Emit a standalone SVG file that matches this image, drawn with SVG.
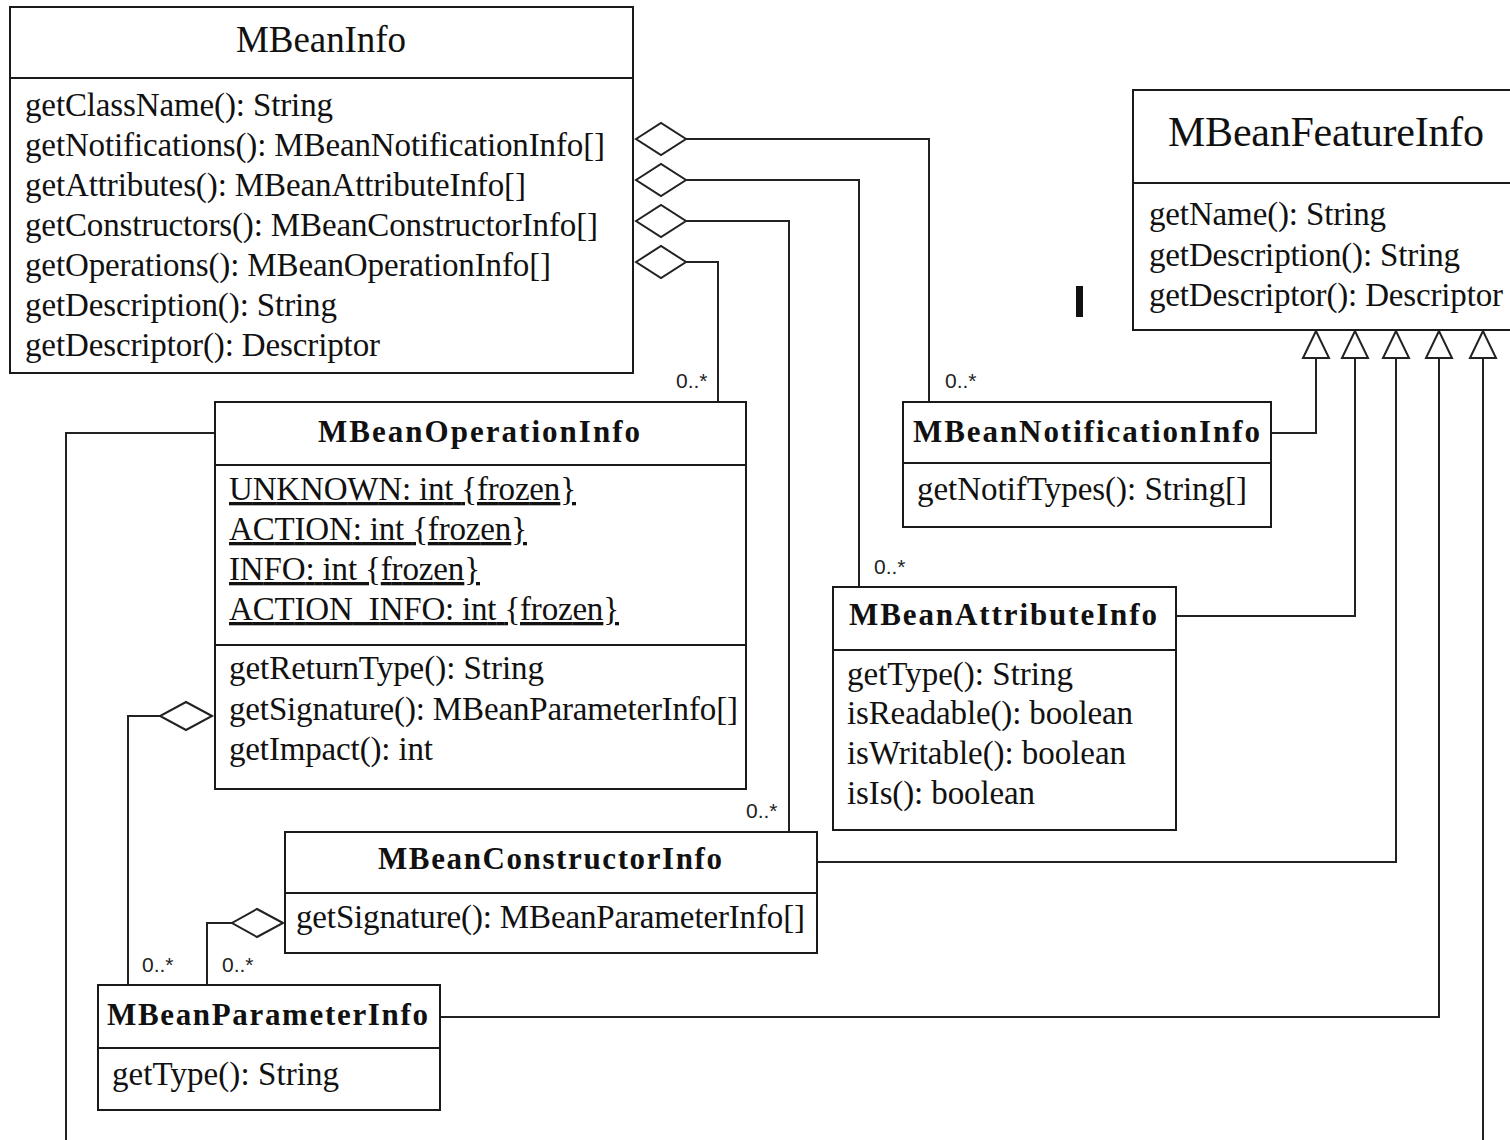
<svg xmlns="http://www.w3.org/2000/svg" width="1510" height="1140" viewBox="0 0 1510 1140">
<style>
.box{fill:#fff;stroke:#1a1a1a;stroke-width:2}
.div{stroke:#1a1a1a;stroke-width:2}
.t{font-family:"Liberation Serif",serif;fill:#111}
.m{font-size:33px}
.h{font-size:37px}
.hb{font-size:31px;font-weight:bold}
.u{text-decoration:underline}
.c{fill:none;stroke:#222;stroke-width:2}
.dia{fill:#fff;stroke:#222;stroke-width:2}
.tri{fill:#fff;stroke:#222;stroke-width:2}
.mul{font-family:"Liberation Sans",sans-serif;font-size:21px;fill:#222}
</style>
<rect x="0" y="0" width="1510" height="1140" fill="#fff"/>
<g id="connectors">
  <polyline class="c" points="686,139 929,139 929,402"/>
  <polyline class="c" points="686,180 859,180 859,587"/>
  <polyline class="c" points="686,221 789,221 789,832"/>
  <polyline class="c" points="686,262 718,262 718,402"/>
  <polygon class="dia" points="636,139 661,123 686,139 661,155"/>
  <polygon class="dia" points="636,180 661,164 686,180 661,196"/>
  <polygon class="dia" points="636,221 661,205 686,221 661,237"/>
  <polygon class="dia" points="636,262 661,246 686,262 661,278"/>
  <polyline class="c" points="160,716 128,716 128,985"/>
  <polygon class="dia" points="212,716 186,702 160,716 186,730"/>
  <polyline class="c" points="232,923 207,923 207,985"/>
  <polygon class="dia" points="283,923 257,909 232,923 257,937"/>
  <polyline class="c" points="215,433 66,433 66,1140"/>
  <polyline class="c" points="1271,433 1316,433 1316,358"/>
  <polyline class="c" points="1176,616 1355,616 1355,358"/>
  <polyline class="c" points="817,862 1396,862 1396,358"/>
  <polyline class="c" points="440,1017 1439,1017 1439,358"/>
  <polyline class="c" points="1483,1140 1483,358"/>
  <polygon class="tri" points="1316,331 1303,358 1329,358"/>
  <polygon class="tri" points="1355,331 1342,358 1368,358"/>
  <polygon class="tri" points="1396,331 1383,358 1409,358"/>
  <polygon class="tri" points="1439,331 1426,358 1452,358"/>
  <polygon class="tri" points="1483,331 1470,358 1496,358"/>
  <text class="mul" x="676" y="388">0..*</text>
  <text class="mul" x="945" y="388">0..*</text>
  <text class="mul" x="874" y="574">0..*</text>
  <text class="mul" x="746" y="818">0..*</text>
  <text class="mul" x="142" y="972">0..*</text>
  <text class="mul" x="222" y="972">0..*</text>
</g>
<g id="MBeanInfo">
  <rect class="box" x="10" y="7" width="623" height="366"/>
  <line class="div" x1="10" y1="78" x2="633" y2="78"/>
  <text class="t h" x="236" y="52" textLength="170">MBeanInfo</text>
  <text class="t m" x="25" y="116" textLength="308">getClassName(): String</text>
  <text class="t m" x="25" y="156" textLength="580">getNotifications(): MBeanNotificationInfo[]</text>
  <text class="t m" x="25" y="196" textLength="501">getAttributes(): MBeanAttributeInfo[]</text>
  <text class="t m" x="25" y="236" textLength="573">getConstructors(): MBeanConstructorInfo[]</text>
  <text class="t m" x="25" y="276" textLength="526">getOperations(): MBeanOperationInfo[]</text>
  <text class="t m" x="25" y="316" textLength="312">getDescription(): String</text>
  <text class="t m" x="25" y="356" textLength="355">getDescriptor(): Descriptor</text>
</g>
<g id="MBeanFeatureInfo">
  <rect class="box" x="1133" y="90" width="390" height="240"/>
  <line class="div" x1="1133" y1="183" x2="1523" y2="183"/>
  <text class="t" style="font-size:42px" x="1168" y="146" textLength="316">MBeanFeatureInfo</text>
  <text class="t m" x="1149" y="225" textLength="237">getName(): String</text>
  <text class="t m" x="1149" y="266" textLength="311">getDescription(): String</text>
  <text class="t m" x="1149" y="306" textLength="354">getDescriptor(): Descriptor</text>
</g>
<g id="cursor-mark">
  <rect x="1076" y="286" width="7" height="31" fill="#111"/>
</g>
<g id="MBeanOperationInfo">
  <rect class="box" x="215" y="402" width="531" height="387"/>
  <line class="div" x1="215" y1="465" x2="746" y2="465"/>
  <line class="div" x1="215" y1="645" x2="746" y2="645"/>
  <text class="t hb" x="318" y="442" textLength="322">MBeanOperationInfo</text>
  <text class="t m u" x="229" y="500" textLength="347">UNKNOWN: int {frozen}</text>
  <text class="t m u" x="229" y="540" textLength="298">ACTION: int {frozen}</text>
  <text class="t m u" x="229" y="580" textLength="251">INFO: int {frozen}</text>
  <text class="t m u" x="229" y="620" textLength="390">ACTION_INFO: int {frozen}</text>
  <text class="t m" x="229" y="679" textLength="315">getReturnType(): String</text>
  <text class="t m" x="229" y="720" textLength="509">getSignature(): MBeanParameterInfo[]</text>
  <text class="t m" x="229" y="760" textLength="204">getImpact(): int</text>
</g>
<g id="MBeanNotificationInfo">
  <rect class="box" x="903" y="402" width="368" height="125"/>
  <line class="div" x1="903" y1="463" x2="1271" y2="463"/>
  <text class="t hb" x="913" y="442" textLength="347">MBeanNotificationInfo</text>
  <text class="t m" x="917" y="500" textLength="330">getNotifTypes(): String[]</text>
</g>
<g id="MBeanAttributeInfo">
  <rect class="box" x="833" y="587" width="343" height="243"/>
  <line class="div" x1="833" y1="650" x2="1176" y2="650"/>
  <text class="t hb" x="849" y="625" textLength="308">MBeanAttributeInfo</text>
  <text class="t m" x="847" y="685" textLength="226">getType(): String</text>
  <text class="t m" x="847" y="724" textLength="286">isReadable(): boolean</text>
  <text class="t m" x="847" y="764" textLength="279">isWritable(): boolean</text>
  <text class="t m" x="847" y="804" textLength="188">isIs(): boolean</text>
</g>
<g id="MBeanConstructorInfo">
  <rect class="box" x="285" y="832" width="532" height="121"/>
  <line class="div" x1="285" y1="893" x2="817" y2="893"/>
  <text class="t hb" x="378" y="869" textLength="344">MBeanConstructorInfo</text>
  <text class="t m" x="296" y="928" textLength="509">getSignature(): MBeanParameterInfo[]</text>
</g>
<g id="MBeanParameterInfo">
  <rect class="box" x="98" y="985" width="342" height="125"/>
  <line class="div" x1="98" y1="1048" x2="440" y2="1048"/>
  <text class="t hb" x="107" y="1025" textLength="321">MBeanParameterInfo</text>
  <text class="t m" x="112" y="1085" textLength="227">getType(): String</text>
</g>
</svg>
